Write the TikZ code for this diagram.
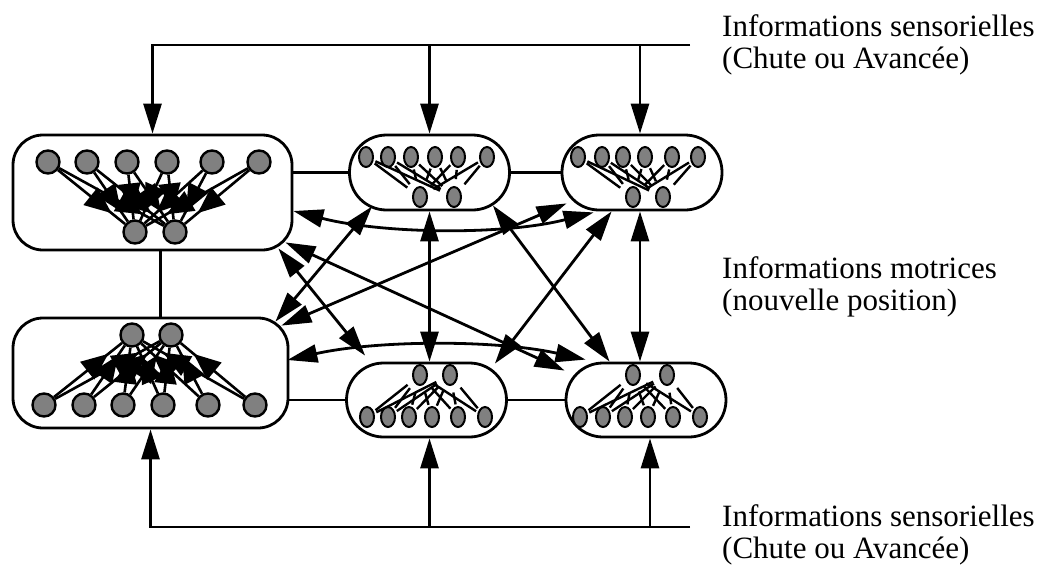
\documentclass[tikz,border=0pt]{standalone}
\usepackage{fontspec}
\setmainfont{Liberation Serif}
\usetikzlibrary{arrows.meta,shapes.geometric,decorations.markings}
\definecolor{cellgray}{RGB}{128,128,128}

\begin{document}
\begin{tikzpicture}[
  x=1pt, y=-1pt,
  bigbox/.style={draw, line width=2.8pt, rounded corners=30pt, inner sep=0pt},
  pill/.style={draw, line width=2.8pt, rounded corners=37pt, inner sep=0pt,
               minimum width=160pt, minimum height=75pt},
  cell/.style={circle, draw, fill=cellgray, line width=2.4pt,
               inner sep=0pt, minimum size=23pt},
  minicell/.style={ellipse, draw, fill=cellgray, line width=2pt,
                   inner sep=0pt, minimum width=14pt, minimum height=20pt},
  syn/.style={line width=2.6pt, postaction={decorate},
              decoration={markings, mark=at position 0.8 with
                {\arrow{Triangle[length=27pt,width=22pt]}}}},
  wire/.style={line width=2.4pt, shorten >=7pt, shorten <=2pt},
  link/.style={line width=2.8pt,
               {Triangle[length=30pt,width=18pt]}-{Triangle[length=30pt,width=18pt]}},
  fb/.style={line width=2.8pt, -{Triangle[length=30pt,width=18pt]}},
  lbl/.style={font=\fontsize{31}{32}\selectfont, align=left,
              inner sep=0pt, anchor=north west}
]
\useasboundingbox (0,0) rectangle (1047,565);
% the six layers
\node[bigbox, minimum width=279pt, minimum height=115pt] (A) at (152.5,192.5) {};
\node[bigbox, minimum width=275pt, minimum height=110pt] (D) at (150.5,373) {};
\node[pill] (B) at (429.5,172.5) {};
\node[pill] (C) at (642,172.5) {};
\node[pill, minimum height=74pt] (E) at (426.5,400) {};
\node[pill, minimum height=74pt] (F) at (646,400) {};
% cells of the big layers
\foreach \x [count=\k] in {48,87,127,167,212,259}
  \node[cell] (A-i\k) at (\x,162) {};
\foreach \x [count=\k] in {135,175}
  \node[cell] (A-o\k) at (\x,232) {};
\foreach \x [count=\k] in {44,84,123,163,208,255}
  \node[cell] (D-i\k) at (\x,405) {};
\foreach \x [count=\k] in {132,171}
  \node[cell] (D-o\k) at (\x,335) {};
% cells of the small layers
\foreach \x [count=\k] in {366,388,411,435,458,487}
  \node[minicell] (B-i\k) at (\x,157) {};
\foreach \x [count=\k] in {420,454}
  \node[minicell] (B-o\k) at (\x,197) {};
\foreach \x [count=\k] in {578,602,623,645,672,698}
  \node[minicell] (C-i\k) at (\x,157) {};
\foreach \x [count=\k] in {633,663}
  \node[minicell] (C-o\k) at (\x,197) {};
\foreach \x [count=\k] in {367,388,409,432,458,485}
  \node[minicell] (E-i\k) at (\x,417) {};
\foreach \x [count=\k] in {420,450}
  \node[minicell] (E-o\k) at (\x,375) {};
\foreach \x [count=\k] in {580,603,625,648,673,700}
  \node[minicell] (F-i\k) at (\x,417) {};
\foreach \x [count=\k] in {633,667}
  \node[minicell] (F-o\k) at (\x,375) {};
% connections inside the layers
\foreach \b in {A,D}
  \foreach \i in {1,...,6}
    \foreach \o in {1,2}
      \draw[syn] (\b-i\i) -- (\b-o\o);
\foreach \b in {B,C,E,F}
  \foreach \i in {1,...,6}
    \foreach \o in {1,2}
      \draw[wire] (\b-i\i) -- (\b-o\o);
% lines between neighbouring layers
\draw[line width=2.6pt] (A.east |- B.west) -- (B.west);
\draw[line width=2.6pt] (B.east) -- (C.west);
\draw[line width=2.6pt] (D.east |- E.west) -- (E.west);
\draw[line width=2.6pt] (E.east) -- (F.west);
\draw[line width=2.6pt] ([xshift=8pt]A.south) -- ([xshift=8pt]A.south |- D.north);
% links between layers
\draw[link] ([shift={(-15,-3)}]A.south east) -- ([shift={(20,-6)}]E.north west);
\draw[link] ([shift={(-8,-9)}]A.south east) -- ([shift={(0,9)}]F.north west);
\draw[link] ([shift={(-14,5)}]D.north east) -- ([shift={(24,-5)}]B.south west);
\draw[link] ([shift={(-8,9)}]D.north east) -- ([shift={(6,-8)}]C.south west);
\draw[link] (B.south) -- (B.south |- E.north);
\draw[link] ([xshift=-2pt]C.south) -- ([xshift=-2pt]C.south |- F.north);
\draw[link] ([shift={(-18,-6)}]B.south east) -- ([shift={(45,0)}]F.north west);
\draw[link] ([shift={(51,0)}]C.south west) -- ([shift={(-13,2)}]E.north east);
\draw[link] ([shift={(0,18.5)}]A.east) .. controls +(90,23) and +(-90,23)
  .. ([shift={(33,1)}]C.south west);
\draw[link] ([shift={(-2,-13)}]D.east) .. controls +(90,-20) and +(-90,-20)
  .. ([shift={(21,-2)}]F.north west);
% sensory feedback, top and bottom
\coordinate (top-r) at (690,45);
\coordinate (bot-r) at (690,527);
\draw[fb] (top-r) -- (A.north |- top-r) -- (A.north);
\draw[fb] (B.north |- top-r) -- (B.north);
\draw[fb] ([xshift=-2pt]C.north |- top-r) -- ([xshift=-2pt]C.north);
\draw[fb] (bot-r) -- (D.south |- bot-r) -- (D.south);
\draw[fb] ([xshift=3pt]E.south |- bot-r) -- ([xshift=3pt]E.south);
\draw[fb] ([xshift=4pt]F.south |- bot-r) -- ([xshift=4pt]F.south);
% labels
\node[lbl] (sens-top) at (722,14) {Informations sensorielles\\(Chute ou Avancée)};
\node[lbl] (motor) at (722,256) {Informations motrices\\(nouvelle position)};
\node[lbl] (sens-bot) at (722,504) {Informations sensorielles\\(Chute ou Avancée)};
\end{tikzpicture}
\end{document}
